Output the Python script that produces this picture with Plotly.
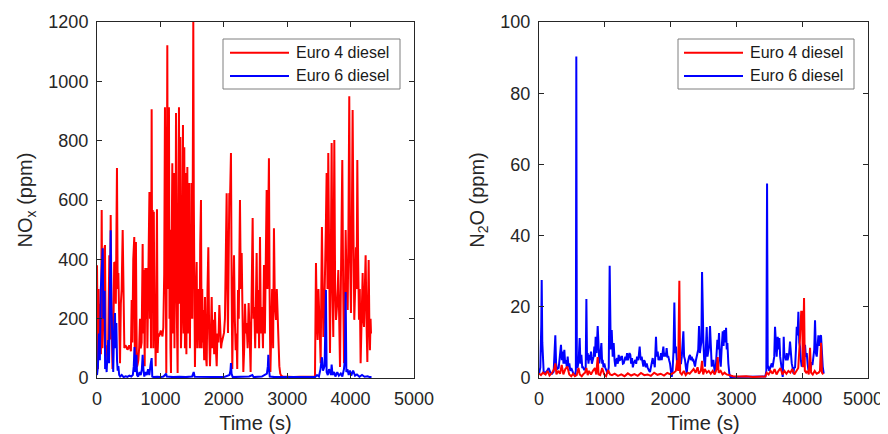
import plotly.graph_objects as go

# ---------------- data ----------------
# NOx, Euro 4 diesel
nox_e4_t = [0, 8, 15, 25, 38, 50, 62, 74, 86, 100, 113, 126, 138, 150, 163, 177, 194, 205, 216, 230,
            244, 258, 271, 284, 297, 315, 326, 337, 350, 363, 376, 389, 405, 418, 431, 448, 465, 480, 494, 508,
            520, 535, 547, 558, 572, 588, 597, 606, 614, 622, 630, 640, 652, 665, 678, 690, 704, 712, 720, 730,
            741, 752, 762, 772, 783, 795, 810, 818, 827, 835, 843, 852, 862, 870, 878, 888, 896, 905, 915, 925,
            936, 946, 956, 967, 980, 993, 1005, 1020, 1033, 1046, 1060, 1072, 1082, 1093, 1101, 1109, 1118, 1126, 1135, 1143,
            1151, 1159, 1167, 1176, 1188, 1196, 1204, 1214, 1222, 1230, 1238, 1246, 1254, 1262, 1272, 1282, 1293, 1303, 1314, 1324,
            1335, 1345, 1356, 1366, 1377, 1387, 1398, 1410, 1425, 1433, 1440, 1448, 1456, 1466, 1475, 1484, 1493, 1503, 1510, 1519,
            1527, 1535, 1545, 1557, 1572, 1582, 1595, 1608, 1618, 1628, 1640, 1650, 1660, 1668, 1677, 1690, 1703, 1716, 1730, 1743,
            1756, 1769, 1782, 1796, 1809, 1822, 1835, 1848, 1861, 1875, 1888, 1900, 1915, 1930, 1945, 1957, 1967, 1985, 2003, 2018,
            2030, 2045, 2056, 2066, 2077, 2087, 2100, 2113, 2124, 2134, 2147, 2161, 2174, 2187, 2200, 2212, 2224, 2236, 2255, 2268,
            2282, 2295, 2308, 2322, 2335, 2348, 2360, 2376, 2392, 2407, 2423, 2440, 2455, 2468, 2481, 2495, 2506, 2518, 2531, 2544,
            2557, 2571, 2585, 2602, 2618, 2634, 2648, 2662, 2676, 2689, 2702, 2712, 2722, 2735, 2748, 2762, 2778, 2791, 2805, 2823,
            2836, 2849, 2862, 2876, 2890, 2905, 2930, 3000, 3100, 3200, 3300, 3400, 3438, 3454, 3467, 3480, 3493, 3507, 3518, 3528,
            3538, 3548, 3560, 3570, 3583, 3596, 3609, 3622, 3635, 3648, 3662, 3675, 3688, 3701, 3714, 3727, 3735, 3743, 3756, 3770,
            3788, 3806, 3820, 3833, 3851, 3869, 3883, 3896, 3909, 3922, 3938, 3954, 3966, 3979, 3992, 4006, 4019, 4032, 4045, 4058,
            4072, 4085, 4095, 4106, 4119, 4132, 4145, 4158, 4174, 4190, 4200, 4211, 4224, 4237, 4250, 4264, 4275, 4285, 4295, 4305,
            4315, 4322]
nox_e4_v = [380, 200, 30, 300, 120, 250, 80, 566, 100, 200, 430, 448, 90, 110, 60, 120, 414, 130, 549, 200,
            30, 135, 390, 388, 250, 708, 300, 354, 80, 50, 250, 300, 499, 200, 101, 110, 105, 95, 100, 110,
            105, 90, 263, 120, 400, 475, 50, 300, 458, 200, 37, 45, 60, 101, 200, 100, 120, 300, 452, 150,
            364, 40, 371, 200, 371, 100, 371, 620, 627, 200, 370, 100, 906, 300, 566, 100, 560, 196, 220, 40,
            300, 569, 84, 151, 140, 151, 160, 150, 140, 170, 350, 913, 300, 17, 500, 1122, 300, 600, 913, 200,
            500, 100, 17, 400, 724, 150, 600, 691, 100, 500, 300, 893, 300, 150, 17, 600, 913, 250, 812, 100,
            196, 500, 853, 150, 778, 100, 691, 80, 711, 150, 450, 200, 657, 100, 500, 200, 657, 200, 700, 1200,
            600, 150, 37, 250, 391, 100, 300, 239, 100, 450, 600, 100, 300, 120, 229, 60, 273, 80, 40, 300,
            441, 150, 40, 150, 273, 100, 196, 80, 222, 100, 40, 150, 120, 246, 150, 100, 118, 140, 152, 200,
            350, 623, 300, 152, 400, 623, 620, 758, 300, 30, 250, 414, 200, 94, 150, 30, 297, 200, 600, 300,
            421, 150, 20, 100, 250, 150, 185, 100, 253, 150, 20, 300, 539, 200, 239, 100, 300, 421, 150, 297,
            100, 475, 150, 239, 100, 381, 150, 400, 634, 300, 735, 741, 300, 20, 150, 300, 100, 505, 250, 196,
            300, 202, 100, 40, 15, 8, 5, 4, 3, 4, 3, 4, 5, 388, 200, 128, 300, 222, 100, 50,
            300, 509, 300, 138, 200, 307, 500, 691, 300, 758, 300, 84, 400, 792, 300, 138, 500, 802, 300, 196,
            250, 364, 200, 37, 400, 735, 300, 50, 200, 499, 300, 229, 500, 950, 400, 219, 500, 903, 500, 196,
            300, 441, 300, 735, 400, 196, 300, 50, 200, 354, 200, 172, 300, 414, 200, 54, 250, 398, 200, 94,
            200, 150]

# NOx, Euro 6 diesel
nox_e6_t = [0, 15, 30, 45, 60, 75, 90, 100, 108, 120, 128, 140, 152, 165, 178, 190, 200, 216, 226, 236,
            246, 256, 268, 284, 294, 305, 316, 326, 337, 350, 365, 390, 420, 450, 480, 510, 540, 565, 580, 592,
            602, 612, 622, 632, 650, 670, 690, 708, 720, 732, 746, 765, 785, 805, 825, 845, 862, 872, 890, 950,
            1000, 1050, 1090, 1100, 1200, 1300, 1400, 1500, 1525, 1540, 1700, 1900, 2000, 2090, 2105, 2113, 2122, 2140, 2300, 2400,
            2450, 2470, 2600, 2680, 2695, 2702, 2712, 2725, 2800, 2900, 3000, 3200, 3400, 3440, 3470, 3500, 3525, 3548, 3565, 3590,
            3611, 3622, 3640, 3660, 3690, 3701, 3715, 3740, 3760, 3790, 3815, 3845, 3870, 3895, 3910, 3922, 3933, 3950, 3970, 3990,
            4010, 4040, 4070, 4100, 4140, 4180, 4220, 4270, 4300, 4330]
nox_e6_v = [10, 40, 150, 60, 300, 380, 437, 200, 291, 291, 30, 60, 20, 80, 128, 50, 300, 498, 250, 128,
            60, 20, 150, 219, 100, 185, 60, 25, 40, 10, 5, 10, 3, 6, 4, 8, 5, 10, 40, 104,
            20, 60, 78, 10, 5, 20, 10, 30, 78, 30, 5, 20, 10, 30, 10, 45, 67, 5, 3, 4,
            3, 5, 15, 5, 3, 4, 3, 5, 20, 4, 3, 4, 3, 10, 25, 50, 15, 3, 4, 5,
            10, 3, 5, 15, 40, 78, 30, 5, 3, 3, 2, 3, 2, 3, 10, 5, 30, 70, 25, 40,
            297, 20, 10, 30, 10, 45, 10, 20, 5, 20, 8, 15, 5, 30, 60, 290, 20, 30, 10, 25,
            8, 25, 8, 12, 4, 10, 4, 6, 3, 3]

# N2O, Euro 4 diesel
n2o_e4_t = [0, 30, 60, 100, 130, 160, 200, 230, 248, 265, 290, 320, 345, 370, 400, 430, 460, 490, 520, 545,
            573, 600, 620, 650, 680, 700, 720, 740, 760, 790, 820, 850, 870, 892, 905, 930, 960, 990, 1020, 1050,
            1080, 1110, 1150, 1200, 1250, 1300, 1350, 1400, 1450, 1500, 1550, 1600, 1650, 1700, 1750, 1800, 1850, 1900, 1950, 2000,
            2050, 2080, 2100, 2115, 2133, 2145, 2170, 2200, 2230, 2260, 2290, 2320, 2350, 2380, 2410, 2430, 2460, 2478, 2495, 2520,
            2550, 2580, 2610, 2640, 2670, 2700, 2716, 2730, 2760, 2790, 2820, 2850, 2890, 2950, 3050, 3150, 3250, 3350, 3440, 3460,
            3490, 3520, 3550, 3580, 3610, 3640, 3670, 3700, 3730, 3760, 3790, 3820, 3850, 3880, 3910, 3940, 3965, 3985, 4000, 4010,
            4028, 4040, 4060, 4080, 4100, 4119, 4135, 4160, 4190, 4220, 4250, 4270, 4286, 4300, 4320]
n2o_e4_v = [1.3, 0.8, 1.5, 1.0, 2.0, 0.7, 1.5, 2.5, 4.1, 1.0, 2.0, 1.2, 3.7, 1.0, 2.5, 3.2, 1.0, 0.5, 1.2, 0.5,
            0.8, 2.8, 1.0, 0.5, 1.2, 1.5, 2.8, 0.8, 2.0, 1.0, 2.0, 2.8, 1.0, 5.9, 1.0, 0.8, 2.8, 1.0, 0.5, 2.2,
            1.0, 0.8, 1.2, 0.6, 1.0, 0.5, 1.3, 0.7, 1.1, 0.6, 1.4, 0.8, 1.0, 0.6, 1.5, 0.9, 1.2, 0.7, 1.4, 1.0,
            1.5, 2.0, 5.0, 2.0, 27.3, 1.5, 1.0, 2.0, 0.8, 1.5, 1.2, 2.0, 2.5, 1.5, 3.0, 1.2, 2.0, 4.8, 1.0, 2.5,
            1.5, 2.0, 1.2, 2.0, 1.0, 2.5, 5.9, 1.5, 2.0, 1.0, 1.5, 1.0, 0.8, 0.5, 0.4, 0.5, 0.3, 0.4, 0.4, 1.5,
            1.0, 2.0, 1.2, 2.5, 1.0, 2.0, 2.8, 1.0, 2.0, 1.2, 2.0, 1.5, 2.5, 1.0, 2.0, 2.8, 10.7, 18.6, 18.6, 3.0,
            22.5, 2.0, 1.5, 2.0, 1.0, 8.5, 1.5, 1.0, 2.0, 1.2, 1.5, 2.0, 9.9, 1.5, 1.0]

# N2O, Euro 6 diesel
n2o_e6_t = [0, 20, 35, 41, 50, 71, 96, 122, 147, 172, 198, 223, 248, 260, 274, 299, 334, 347, 360, 372,
            385, 398, 410, 423, 436, 449, 461, 476, 491, 510, 527, 545, 560, 567, 575, 588, 603, 618, 630, 644,
            657, 669, 689, 710, 720, 730, 740, 752, 765, 778, 790, 803, 816, 830, 841, 851, 861, 875, 892, 905,
            917, 930, 948, 960, 968, 980, 993, 1005, 1018, 1030, 1044, 1060, 1074, 1090, 1105, 1120, 1135, 1148, 1160, 1173,
            1186, 1198, 1211, 1224, 1236, 1250, 1262, 1275, 1287, 1300, 1312, 1325, 1338, 1350, 1363, 1375, 1388, 1400, 1414, 1426,
            1439, 1452, 1464, 1477, 1490, 1503, 1515, 1530, 1545, 1560, 1573, 1586, 1598, 1611, 1624, 1637, 1650, 1662, 1675, 1687,
            1700, 1715, 1728, 1740, 1748, 1760, 1778, 1790, 1804, 1816, 1829, 1841, 1854, 1865, 1878, 1890, 1902, 1915, 1928, 1940,
            1952, 1966, 1978, 1991, 2005, 2017, 2030, 2045, 2057, 2070, 2082, 2095, 2108, 2120, 2133, 2145, 2158, 2170, 2180, 2194,
            2205, 2219, 2232, 2245, 2258, 2270, 2282, 2295, 2308, 2321, 2334, 2346, 2360, 2371, 2385, 2400, 2407, 2420, 2432, 2445,
            2457, 2468, 2478, 2488, 2498, 2510, 2523, 2535, 2549, 2560, 2574, 2587, 2599, 2612, 2625, 2637, 2650, 2662, 2675, 2690,
            2700, 2711, 2722, 2736, 2750, 2762, 2775, 2792, 2805, 2817, 2830, 2843, 2853, 2863, 2878, 2893, 2910, 3000, 3100, 3200,
            3300, 3400, 3440, 3455, 3466, 3476, 3486, 3498, 3511, 3524, 3537, 3550, 3562, 3575, 3587, 3600, 3612, 3620, 3628, 3640,
            3653, 3665, 3678, 3690, 3704, 3712, 3719, 3729, 3739, 3752, 3765, 3777, 3790, 3802, 3815, 3828, 3841, 3853, 3866, 3878,
            3891, 3905, 3917, 3930, 3942, 3955, 3967, 3980, 3993, 4005, 4018, 4030, 4043, 4055, 4069, 4082, 4094, 4107, 4119, 4132,
            4145, 4158, 4170, 4183, 4195, 4208, 4221, 4233, 4246, 4258, 4271, 4286, 4298, 4312, 4327]
n2o_e6_v = [1.0, 3.0, 15.0, 27.5, 10.0, 1.7, 1.5, 2.0, 2.8, 1.5, 1.2, 1.8, 12.0, 4.0, 2.5, 2.8, 9.3, 5.0, 7.4, 4.0,
            7.9, 4.0, 5.0, 3.0, 6.0, 3.0, 4.1, 2.0, 2.8, 1.5, 1.0, 0.8, 2.0, 90.3, 3.0, 3.1, 5.0, 11.2, 4.0, 6.5,
            3.0, 3.0, 2.2, 3.0, 22.2, 5.0, 7.0, 4.0, 6.5, 5.0, 7.4, 4.0, 5.1, 6.0, 8.8, 6.0, 11.6, 7.0, 14.6, 5.0,
            4.1, 6.0, 9.8, 4.0, 5.1, 3.0, 4.1, 3.0, 2.2, 2.0, 1.2, 3.0, 31.5, 8.0, 13.5, 6.0, 9.8, 5.0, 3.2, 5.0,
            5.6, 4.0, 6.5, 5.0, 5.1, 6.0, 6.0, 4.0, 4.1, 5.0, 6.0, 5.0, 7.0, 5.0, 6.0, 7.0, 6.5, 4.0, 5.6, 3.0,
            4.1, 5.0, 5.1, 4.0, 6.0, 5.0, 6.0, 8.8, 5.0, 6.0, 4.0, 3.2, 5.0, 4.5, 3.0, 4.1, 3.0, 2.2, 2.0, 1.7,
            3.0, 5.0, 5.6, 4.0, 4.5, 3.0, 11.6, 6.0, 7.4, 5.0, 6.0, 5.0, 7.0, 5.0, 7.0, 8.8, 6.0, 7.0, 6.0, 8.4,
            6.0, 6.0, 5.0, 4.1, 2.0, 0.3, 2.0, 8.0, 21.2, 7.0, 8.8, 5.0, 5.1, 4.0, 3.2, 4.0, 4.1, 6.0, 9.0, 13.1,
            6.0, 5.1, 3.0, 1.2, 4.0, 5.6, 6.0, 6.5, 5.0, 6.0, 5.0, 5.1, 4.0, 3.2, 5.0, 6.0, 7.0, 8.0, 14.6, 7.0,
            8.8, 10.0, 29.8, 12.0, 10.7, 5.0, 3.2, 8.0, 14.3, 6.0, 8.4, 9.0, 14.6, 6.0, 3.2, 4.0, 5.1, 3.0, 1.2, 4.0,
            8.0, 10.7, 8.0, 12.6, 5.0, 3.2, 8.0, 13.1, 9.0, 13.5, 10.0, 14.1, 8.0, 9.8, 4.0, 1.2, 0.3, 0.3, 0.4, 0.3,
            0.4, 0.3, 0.4, 2.0, 54.6, 3.0, 3.1, 2.0, 2.8, 3.0, 4.1, 3.0, 5.1, 6.0, 14.4, 8.0, 6.0, 9.0, 11.6, 8.0,
            11.2, 6.0, 3.6, 2.0, 0.3, 5.0, 11.6, 6.0, 6.0, 5.0, 7.0, 5.0, 6.0, 7.0, 10.2, 5.0, 4.1, 3.0, 1.2, 3.0,
            2.8, 8.0, 14.4, 12.0, 18.6, 10.0, 8.8, 5.0, 3.2, 4.0, 6.0, 5.0, 9.3, 6.0, 7.0, 4.0, 2.2, 3.0, 3.2, 3.0,
            4.1, 4.0, 6.0, 8.0, 16.2, 7.0, 6.0, 8.0, 12.0, 9.0, 11.6, 12.0, 5.0, 3.2, 1.2]

series_names = ["Euro 4 diesel", "Euro 6 diesel"]
series_colors = ["#ff0000", "#0000ff"]
x_ticks = [0, 1000, 2000, 3000, 4000, 5000]
x_tick_labels = ["0", "1000", "2000", "3000", "4000", "5000"]
nox_ticks = [0, 200, 400, 600, 800, 1000, 1200]
n2o_ticks = [0, 20, 40, 60, 80, 100]

# ---------------- figure ----------------
RED, BLUE = series_colors
INK = "#262626"
FONT = "Liberation Sans, Arial, Helvetica, sans-serif"

# The page has an 8 px body margin, so the figure is 8 px smaller and all
# reference pixel positions are shifted by OFF.
OFF = 8
W, H = 888 - OFF, 434 - OFF


def px(x):
    return (x - OFF) / W


def py(y):
    return (H - (y - OFF)) / H


fig = go.Figure()
fig.add_trace(go.Scatter(x=nox_e4_t, y=nox_e4_v, mode="lines", name=series_names[0],
                         line=dict(color=RED, width=2), xaxis="x", yaxis="y"))
fig.add_trace(go.Scatter(x=nox_e6_t, y=nox_e6_v, mode="lines", name=series_names[1],
                         line=dict(color=BLUE, width=2), xaxis="x", yaxis="y"))
fig.add_trace(go.Scatter(x=n2o_e6_t, y=n2o_e6_v, mode="lines", name=series_names[1],
                         line=dict(color=BLUE, width=2), xaxis="x2", yaxis="y2"))
fig.add_trace(go.Scatter(x=n2o_e4_t, y=n2o_e4_v, mode="lines", name=series_names[0],
                         line=dict(color=RED, width=2), xaxis="x2", yaxis="y2"))

ydom = [py(378), py(22)]

axis_common = dict(showline=True, linecolor=INK, linewidth=1, mirror="ticks",
                   ticks="inside", ticklen=5, tickwidth=1, tickcolor=INK,
                   showgrid=False, zeroline=False, automargin=False,
                   tickfont=dict(size=18, color=INK, family=FONT),
                   ticklabelstandoff=4)

# legend boxes drawn in paper space (box, sample lines and real text labels)
shapes = []
annotations = []
legend_boxes = [  # (box x0, box x1, line x0, line x1, text x) in reference pixels
    (223, 400, 230, 289, 294),
    (678, 854, 684, 743, 748),
]
row_y = [52.7, 76.0]
for bx0, bx1, lx0, lx1, tx in legend_boxes:
    shapes.append(dict(type="rect", xref="paper", yref="paper",
                       x0=px(bx0), x1=px(bx1), y0=py(89), y1=py(39),
                       line=dict(color="#7f7f7f", width=1), fillcolor="white", layer="above"))
    for name, color, ry in zip(series_names, series_colors, row_y):
        shapes.append(dict(type="line", xref="paper", yref="paper",
                           x0=px(lx0), x1=px(lx1), y0=py(ry), y1=py(ry),
                           line=dict(color=color, width=2), layer="above"))
        annotations.append(dict(text=name, xref="paper", yref="paper",
                                x=px(tx), y=py(ry), xanchor="left", yanchor="middle",
                                showarrow=False, font=dict(size=16, color="#1a1a1a", family=FONT)))

# the last x tick label of the right panel sits at the page edge; like the
# reference it is nudged inward so that it stays fully visible
right_tick_text = x_tick_labels[:-1] + [""]
annotations.append(dict(text=x_tick_labels[-1], xref="x2", yref="paper",
                        x=x_ticks[-1], y=py(378), xanchor="center", yanchor="middle",
                        xshift=-5, yshift=-21, showarrow=False,
                        font=dict(size=18, color=INK, family=FONT)))

fig.update_layout(
    width=W, height=H,
    margin=dict(l=0, r=0, t=0, b=0, autoexpand=False),
    paper_bgcolor="white", plot_bgcolor="white",
    font=dict(family=FONT, color=INK),
    showlegend=False,
    xaxis=dict(domain=[px(97), px(414)], range=[0, 5000], tickvals=x_ticks, ticktext=x_tick_labels,
               anchor="y",
               title=dict(text="Time (s)", font=dict(size=20, color=INK), standoff=10), **axis_common),
    yaxis=dict(domain=ydom, range=[0, 1200], tickvals=nox_ticks, anchor="x",
               title=dict(text="NO<sub>x</sub> (ppm)", font=dict(size=20, color=INK), standoff=10), **axis_common),
    xaxis2=dict(domain=[px(539), px(868)], range=[0, 5000], tickvals=x_ticks, ticktext=right_tick_text,
                anchor="y2",
                title=dict(text="Time (s)", font=dict(size=20, color=INK), standoff=10), **axis_common),
    yaxis2=dict(domain=ydom, range=[0, 100], tickvals=n2o_ticks, anchor="x2",
                title=dict(text="N<sub>2</sub>O (ppm)", font=dict(size=20, color=INK), standoff=10), **axis_common),
    shapes=shapes,
    annotations=annotations,
)

fig.write_html("out.html")
